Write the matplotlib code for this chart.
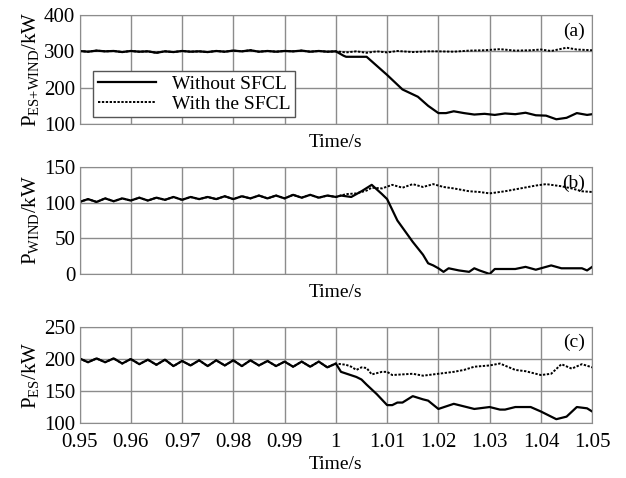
import numpy as np
import matplotlib
matplotlib.use("Agg")
from matplotlib import pyplot as plt

plt.rcParams['font.family'] = ['Liberation Serif', 'DejaVu Serif']
plt.rcParams['mathtext.fontset'] = 'custom'
plt.rcParams['mathtext.rm'] = 'Liberation Serif'
plt.rcParams['mathtext.it'] = 'Liberation Serif:italic'

# pre-fault samples (both cases coincide), every half ripple period
t_pre = np.linspace(0.95, 1.0, 31)
a_pre = [301, 299, 302, 300, 301, 298, 301, 299, 300, 296, 300, 298, 301, 299, 300, 298,
         301, 299, 302, 300, 303, 299, 301, 299, 301, 300, 302, 299, 301, 299, 300]
b_pre = [101, 105, 101, 106, 102, 106, 103, 107, 103, 107, 104, 108, 104, 108, 105, 108,
         105, 109, 105, 109, 106, 110, 106, 110, 106, 111, 107, 111, 107, 110, 108]
c_pre = [201, 195, 201, 195, 201, 193, 200, 192, 199, 191, 199, 189, 197, 190, 198, 189,
         198, 190, 198, 189, 198, 190, 197, 189, 196, 188, 196, 188, 196, 187, 193]

# post-fault, without SFCL
a_t_wo = [1.0, 1.0015, 1.002, 1.006, 1.008, 1.010, 1.013, 1.016, 1.018, 1.020, 1.0215, 1.023,
          1.025, 1.027, 1.029, 1.031, 1.033, 1.035, 1.037, 1.039, 1.041, 1.043, 1.045, 1.047,
          1.049, 1.05]
a_wo = [300, 288, 285, 285, 260, 235, 195, 175, 150, 130, 130, 135, 130, 126, 128, 125, 129,
        127, 131, 124, 123, 113, 117, 130, 125, 127]
# post-fault, with SFCL
a_t_w = [1.0, 1.002, 1.004, 1.006, 1.008, 1.010, 1.012, 1.015, 1.018, 1.020, 1.023, 1.026,
         1.029, 1.032, 1.035, 1.038, 1.040, 1.042, 1.045, 1.047, 1.05]
a_w = [300, 297, 300, 296, 300, 297, 301, 298, 300, 300, 299, 302, 303, 306, 302, 303, 305,
       301, 310, 305, 303]

b_t_wo = [1.0, 1.001, 1.003, 1.005, 1.007, 1.009, 1.010, 1.012, 1.015, 1.017, 1.018, 1.019,
          1.020, 1.021, 1.022, 1.024, 1.026, 1.027, 1.028, 1.030, 1.031, 1.033, 1.035, 1.037,
          1.039, 1.041, 1.042, 1.044, 1.046, 1.048, 1.049, 1.05]
b_wo = [108, 110, 108, 116, 125, 112, 105, 75, 45, 27, 15, 12, 8, 3, 8, 5, 3, 8, 5, 0, 7, 7,
        7, 10, 6, 10, 12, 8, 8, 8, 5, 10]
b_t_w = [1.0, 1.002, 1.004, 1.006, 1.007, 1.009, 1.011, 1.013, 1.015, 1.017, 1.019, 1.021,
         1.023, 1.026, 1.028, 1.030, 1.033, 1.036, 1.039, 1.041, 1.044, 1.046, 1.048, 1.05]
b_w = [108, 112, 113, 117, 121, 120, 125, 121, 126, 122, 126, 122, 120, 116, 115, 113, 116,
       120, 124, 126, 123, 120, 116, 115]

c_t_wo = [1.0, 1.001, 1.004, 1.005, 1.006, 1.008, 1.010, 1.011, 1.012, 1.013, 1.015, 1.017,
          1.018, 1.020, 1.023, 1.025, 1.027, 1.030, 1.032, 1.033, 1.035, 1.038, 1.040, 1.042,
          1.043, 1.045, 1.047, 1.049, 1.05]
c_wo = [193, 180, 172, 168, 160, 145, 128, 128, 132, 132, 142, 137, 135, 122, 130, 126, 122,
        125, 121, 121, 125, 125, 118, 110, 106, 110, 125, 123, 118]
c_t_w = [1.0, 1.002, 1.003, 1.004, 1.005, 1.006, 1.007, 1.009, 1.010, 1.011, 1.013, 1.015,
         1.017, 1.020, 1.023, 1.025, 1.027, 1.030, 1.032, 1.035, 1.037, 1.040, 1.042, 1.044,
         1.046, 1.048, 1.05]
c_w = [193, 191, 188, 183, 187, 186, 176, 180, 180, 175, 176, 177, 174, 177, 180, 183, 188,
       190, 193, 183, 181, 175, 177, 192, 185, 192, 187]

panels = [
    (a_pre, a_t_wo, a_wo, a_t_w, a_w, [100, 200, 300, 400], r'P$_{\mathrm{ES{+}WIND}}$/kW', '(a)'),
    (b_pre, b_t_wo, b_wo, b_t_w, b_w, [0, 50, 100, 150], r'P$_{\mathrm{WIND}}$/kW', '(b)'),
    (c_pre, c_t_wo, c_wo, c_t_w, c_w, [100, 150, 200, 250], r'P$_{\mathrm{ES}}$/kW', '(c)'),
]
xticks = [0.95, 0.96, 0.97, 0.98, 0.99, 1.0, 1.01, 1.02, 1.03, 1.04, 1.05]
xlabels = ['0.95', '0.96', '0.97', '0.98', '0.99', '1', '1.01', '1.02', '1.03', '1.04', '1.05']

fig = plt.figure(figsize=(6.26, 4.78), dpi=100)
rects = [[0.127, 0.7406, 0.819, 0.228],
         [0.127, 0.4268, 0.819, 0.2238],
         [0.127, 0.115, 0.819, 0.2008]]

for i, (pre, t_wo, wo, t_w, w, yt, ylab, tag) in enumerate(panels):
    ax = fig.add_axes(rects[i])
    x_wo = np.concatenate([t_pre, t_wo[1:]])
    y_wo = np.concatenate([pre, wo[1:]])
    x_w = np.concatenate([t_pre, t_w[1:]])
    y_w = np.concatenate([pre, w[1:]])
    ax.plot(x_w, y_w, color='black', lw=1.4, ls=(0, (1.2, 0.8)), label='With the SFCL')
    ax.plot(x_wo, y_wo, color='black', lw=1.6, label='Without SFCL')
    ax.set_xlim(0.95, 1.05)
    ax.set_ylim(yt[0], yt[-1])
    ax.set_yticks(yt)
    ax.set_xticks(xticks)
    ax.grid(True, color='#8c8c8c', lw=1.0)
    for s in ax.spines.values():
        s.set_color('#8c8c8c')
    ax.tick_params(length=0, labelsize=15, pad=3)
    if i == 2:
        ax.set_xticklabels(xlabels)
        ax.tick_params(axis='x', pad=7)
        ax.set_xlabel('Time/s', fontsize=14, labelpad=3)
    else:
        ax.set_xticklabels([])
        ax.set_xlabel('Time/s', fontsize=14, labelpad=4)
    ax.set_ylabel(ylab, fontsize=15, labelpad=2)
    ax.text(0.985, 0.93, tag, transform=ax.transAxes, ha='right', va='top', fontsize=14)
    if i == 0:
        h, l = ax.get_legend_handles_labels()
        leg = ax.legend(h[::-1], l[::-1], loc='lower left', bbox_to_anchor=(0.026, 0.06),
                        fontsize=14, fancybox=False, framealpha=1, edgecolor='#555555',
                        borderpad=0.25, handlelength=3.0, labelspacing=0.1, borderaxespad=0)
        leg.get_frame().set_linewidth(1.0)

fig.savefig('out.png', dpi=100)
